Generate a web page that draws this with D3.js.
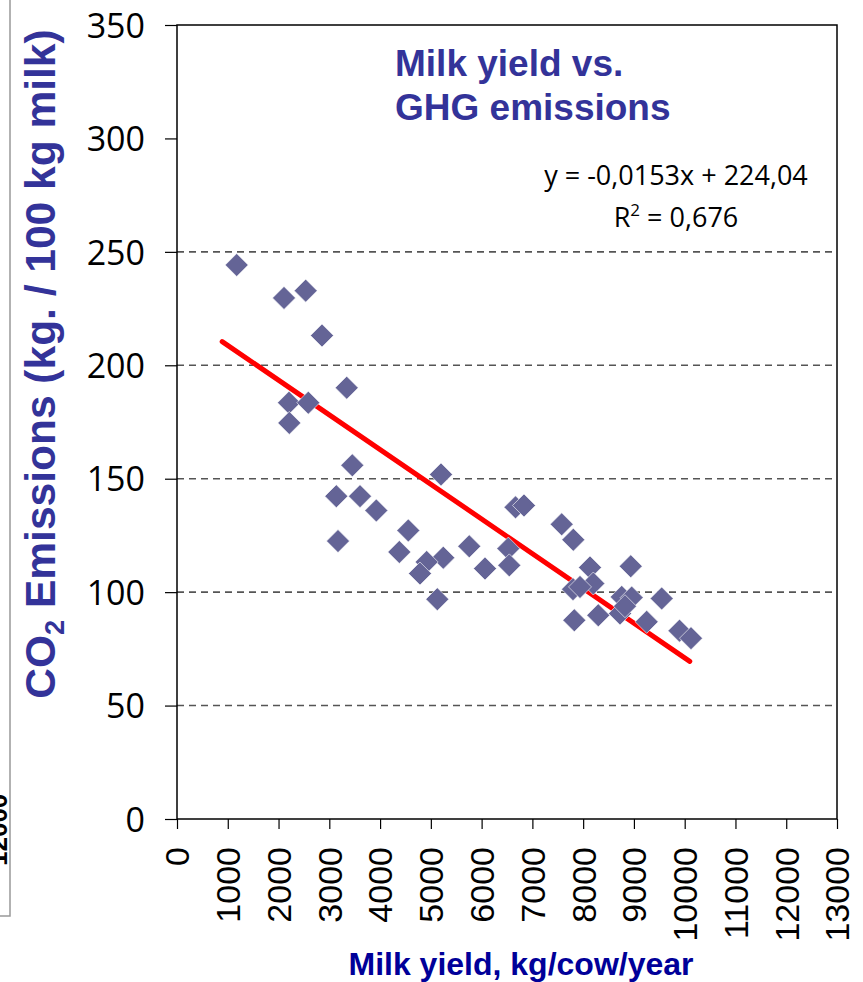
<!DOCTYPE html>
<html lang="en">
<head>
  <meta charset="UTF-8">
  <script src="https://d3js.org/d3.v7.min.js"></script>
  <style>
body { margin: 0; background: #fff; }
.grid line { stroke: #555; stroke-width: 1.6px; stroke-dasharray: 7 5; }
.axis text { fill: #000; }
.ytick text { font: 34px "Open Sans", sans-serif; }
.xtick text { font: 34px "Liberation Sans", Arial, sans-serif; }
.title { font: bold 37px "Liberation Sans", Arial, sans-serif; fill: #333399; }
.eq { font: 27px "Open Sans", sans-serif; fill: #000; }
</style>
</head>
<body>
<svg width="863" height="982"></svg>
<script>
// milk yield (kg/cow/year) and CO2 emissions (kg / 100 kg milk)
const milkYield = [1176, 2108, 2535, 2856, 3343, 2206, 2586, 2212, 3453, 5200,
  3138, 3605, 3926, 4556, 3171, 4379, 5245, 4918, 4786, 5757,
  5127, 6067, 6526, 6545, 6668, 6835, 7577, 7806, 8135, 8937,
  7800, 8200, 8760, 8956, 9547, 7826, 8298, 8726, 9252, 9898,
  10124, 8824, 7938];
const co2 = [244.2, 229.7, 232.9, 213.1, 190.1, 183.5, 183.5, 174.6, 155.9, 151.9,
  142.3, 142.3, 136.0, 127.2, 122.5, 117.7, 115.2, 113.3, 108.2, 120.2,
  96.9, 110.4, 119.2, 111.8, 137.4, 138.2, 129.9, 123.1, 110.9, 111.4,
  101.3, 103.8, 97.9, 97.6, 97.2, 87.6, 89.8, 90.6, 86.9, 83.0,
  79.7, 93.8, 102.3];

const xTicks = [0, 1000, 2000, 3000, 4000, 5000, 6000, 7000, 8000, 9000, 10000, 11000, 12000, 13000];
const yTicks = [0, 50, 100, 150, 200, 250, 300, 350];
const gridValues = [50, 100, 150, 200, 250];

// linear trend line
const slope = -0.0153, intercept = 224.04;
const trendX = [890, 10100];

const svg = d3.select("svg");
const plotLeft = 177, plotRight = 837, plotTop = 25, plotBottom = 819;

const x = d3.scaleLinear().domain([0, 13000]).range([plotLeft, plotRight]);
const y = d3.scaleLinear().domain([0, 350]).range([plotBottom, plotTop]);

// bit of another chart peeking in at the left edge
svg.append("path")
  .attr("d", "M10,0 V916 H0")
  .attr("fill", "none")
  .attr("stroke", "#999")
  .attr("stroke-width", 1.5);
svg.append("text")
  .attr("transform", "translate(7,866) rotate(-90)")
  .style("font", "bold 26px 'Liberation Sans', Arial, sans-serif")
  .text("12000");

// gridlines
svg.append("g").attr("class", "grid")
  .selectAll("line")
  .data(gridValues)
  .join("line")
  .attr("x1", plotLeft).attr("x2", plotRight)
  .attr("y1", d => y(d)).attr("y2", d => y(d));

// axes
const yAxis = svg.append("g")
  .attr("class", "axis ytick")
  .attr("transform", `translate(${plotLeft},0)`)
  .call(d3.axisLeft(y).tickValues(yTicks).tickSize(12).tickPadding(20).tickFormat(d3.format("d")));

const xAxis = svg.append("g")
  .attr("class", "axis xtick")
  .attr("transform", `translate(0,${plotBottom})`)
  .call(d3.axisBottom(x).tickValues(xTicks).tickSize(10).tickFormat(d3.format("d")));

svg.selectAll(".axis .domain").remove();
svg.selectAll(".axis line").attr("stroke", "#000").attr("stroke-width", 1.2);
svg.selectAll(".ytick text").attr("dy", "0.36em");

xAxis.selectAll("text")
  .attr("transform", "rotate(-90)")
  .attr("text-anchor", "end")
  .attr("x", -28)
  .attr("y", 0)
  .attr("dy", "0.35em");

// plot frame
svg.append("rect")
  .attr("x", plotLeft).attr("y", plotTop)
  .attr("width", plotRight - plotLeft).attr("height", plotBottom - plotTop)
  .attr("fill", "none")
  .attr("stroke", "#000")
  .attr("stroke-width", 1.5);

// trend line
svg.append("line")
  .attr("x1", x(trendX[0])).attr("y1", y(slope * trendX[0] + intercept))
  .attr("x2", x(trendX[1])).attr("y2", y(slope * trendX[1] + intercept))
  .attr("stroke", "#ff0000")
  .attr("stroke-width", 5)
  .attr("stroke-linecap", "round");

// diamonds
const diamond = "M0,-11.5L11.5,0L0,11.5L-11.5,0Z";
svg.append("g")
  .selectAll("path")
  .data(milkYield.map((v, i) => [v, co2[i]]))
  .join("path")
  .attr("d", diamond)
  .attr("transform", d => `translate(${x(d[0])},${y(d[1])})`)
  .attr("fill", "#646496")
  .attr("stroke", "#fff")
  .attr("stroke-width", 0.6);

// title text box
svg.append("text").attr("class", "title").attr("x", 395).attr("y", 76).text("Milk yield vs.");
svg.append("text").attr("class", "title").attr("x", 395).attr("y", 120).text("GHG emissions");

// equation
svg.append("text").attr("class", "eq")
  .attr("x", 676).attr("y", 185).attr("text-anchor", "middle")
  .text("y = -0,0153x + 224,04");
const r2 = svg.append("text").attr("class", "eq")
  .attr("x", 676).attr("y", 227).attr("text-anchor", "middle");
r2.append("tspan").text("R");
r2.append("tspan").attr("font-size", 17).attr("dy", -11).text("2");
r2.append("tspan").attr("dy", 11).text(" = 0,676");

// axis titles
const yt = svg.append("text")
  .attr("transform", "translate(55,364) rotate(-90)")
  .attr("text-anchor", "middle")
  .style("font", "bold 42.5px 'Liberation Sans', Arial, sans-serif")
  .attr("fill", "#333399");
yt.append("tspan").text("CO");
yt.append("tspan").attr("font-size", 27).attr("dy", 9).text("2");
yt.append("tspan").attr("dy", -9).text(" Emissions (kg. / 100 kg milk)");

svg.append("text")
  .attr("x", 521).attr("y", 975)
  .attr("text-anchor", "middle")
  .style("font", "bold 32px 'Liberation Sans', Arial, sans-serif")
  .attr("fill", "#000099")
  .text("Milk yield, kg/cow/year");
</script>
</body>
</html>
